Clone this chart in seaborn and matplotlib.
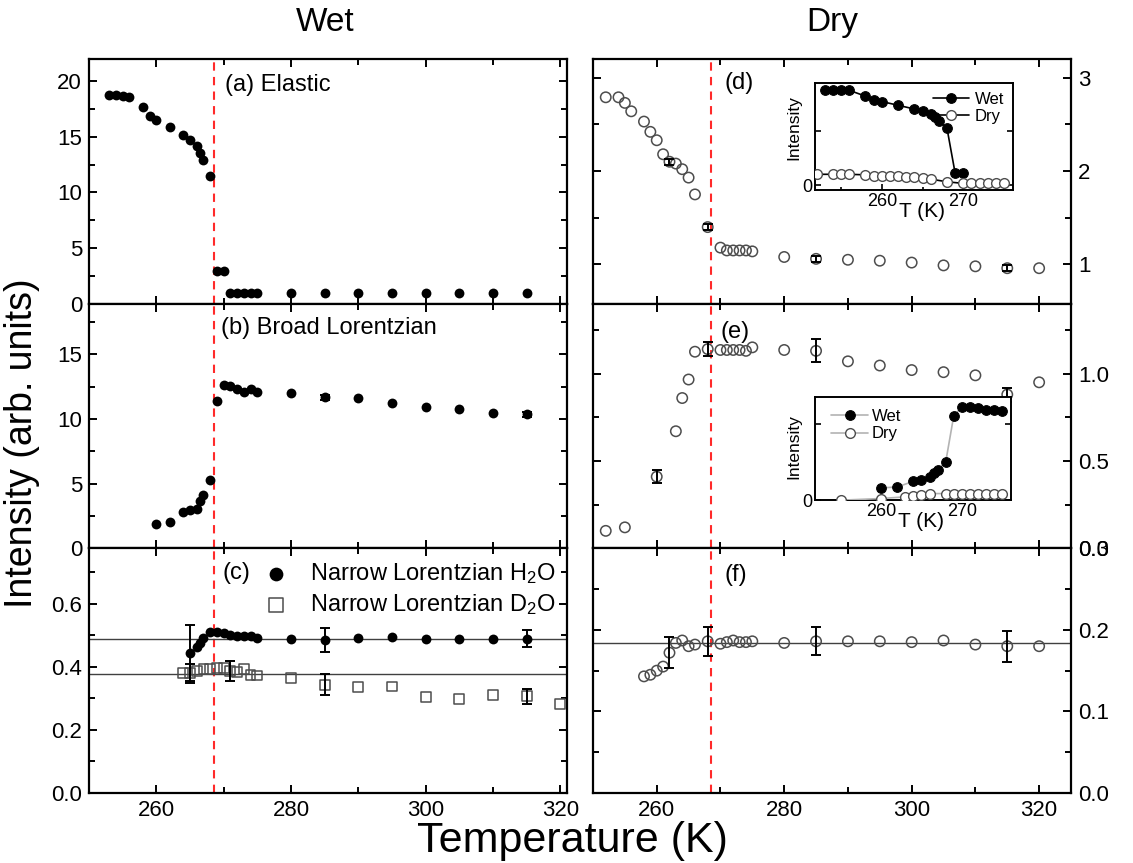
import matplotlib
matplotlib.use("Agg")
import matplotlib.pyplot as plt
import seaborn as sns
from matplotlib.ticker import MultipleLocator

# ---- values ----
# (a) elastic, wet
wet_el_T = [253, 254, 255, 256, 258, 259, 260, 262, 264, 265, 266, 266.5, 267, 268,
            269, 270, 271, 272, 273, 274, 275, 280, 285, 290, 295, 300, 305, 310, 315]
wet_el_I = [18.74, 18.74, 18.68, 18.6, 17.7, 16.9, 16.55, 15.9, 15.2, 14.75, 14.15, 13.55, 12.9, 11.5,
            2.97, 2.97, 1.0, 1.0, 1.0, 1.0, 1.0, 0.95, 1.0, 0.95, 1.0, 0.95, 0.95, 0.95, 0.95]

# (b) broad Lorentzian, wet
wet_br_T = [260, 262, 264, 265, 266, 266.5, 267, 268, 269, 270, 271, 272, 273, 274, 275,
            280, 285, 290, 295, 300, 305, 310, 315]
wet_br_I = [1.88, 2.06, 2.78, 2.99, 3.04, 3.63, 4.12, 5.31, 11.39, 12.63, 12.53, 12.32, 12.06, 12.32, 12.06,
            11.98, 11.68, 11.62, 11.21, 10.9, 10.77, 10.46, 10.34]
wet_br_errT = [285, 315]
wet_br_errI = [11.68, 10.34]
wet_br_err = [0.2, 0.2]

# (c) narrow Lorentzian, H2O and D2O
h2o_T = [265, 266, 266.5, 267, 268, 269, 270, 271, 272, 273, 274, 275,
         280, 285, 290, 295, 300, 305, 310, 315]
h2o_I = [0.444, 0.4625, 0.476, 0.49, 0.509, 0.511, 0.506, 0.499, 0.496, 0.496, 0.496, 0.49,
         0.489, 0.485, 0.49, 0.494, 0.489, 0.489, 0.489, 0.489]
h2o_errT = [265, 285, 315]
h2o_errI = [0.444, 0.485, 0.489]
h2o_err = [0.088, 0.037, 0.026]

d2o_T = [264, 265, 266, 267, 268, 269, 270, 271, 272, 273, 274, 275,
         280, 285, 290, 295, 300, 305, 310, 315, 320]
d2o_I = [0.379, 0.379, 0.386, 0.393, 0.393, 0.395, 0.397, 0.386, 0.382, 0.392, 0.374, 0.372,
         0.364, 0.343, 0.335, 0.3375, 0.304, 0.299, 0.311, 0.306, 0.283]
d2o_errT = [265, 271, 285, 315]
d2o_errI = [0.379, 0.386, 0.343, 0.306]
d2o_err = [0.03, 0.031, 0.033, 0.025]

h2o_level = 0.489
d2o_level = 0.377

# (d) elastic, dry
dry_el_T = [252, 254, 255, 256, 258, 259, 260, 261, 262, 263, 264, 265, 266, 268,
            270, 271, 272, 273, 274, 275, 280, 285, 290, 295, 300, 305, 310, 315, 320]
dry_el_I = [2.79, 2.79, 2.73, 2.64, 2.53, 2.42, 2.33, 2.18, 2.10, 2.08, 2.02, 1.93, 1.75, 1.40,
            1.18, 1.15, 1.15, 1.15, 1.15, 1.14, 1.08, 1.06, 1.05, 1.04, 1.02, 0.99, 0.98, 0.96, 0.96]
dry_el_errT = [262, 268, 285, 315]
dry_el_errI = [2.10, 1.40, 1.06, 0.96]
dry_el_err = [0.03, 0.03, 0.03, 0.03]

# (e) broad Lorentzian, dry
dry_br_T = [252, 255, 260, 263, 264, 265, 266, 268, 270, 271, 272, 273, 274, 275,
            280, 285, 290, 295, 300, 305, 310, 315, 320]
dry_br_I = [0.10, 0.12, 0.41, 0.67, 0.86, 0.966, 1.125, 1.14, 1.135, 1.135, 1.135, 1.135, 1.13, 1.15,
            1.135, 1.13, 1.07, 1.046, 1.02, 1.008, 0.99, 0.88, 0.95]
dry_br_errT = [260, 268, 285, 315]
dry_br_errI = [0.41, 1.14, 1.13, 0.88]
dry_br_err = [0.036, 0.04, 0.065, 0.04]

# (f) narrow Lorentzian, dry
dry_nr_T = [258, 259, 260, 261, 262, 263, 264, 265, 266, 268, 270, 271, 272, 273, 274, 275,
            280, 285, 290, 295, 300, 305, 310, 315, 320]
dry_nr_I = [0.143, 0.145, 0.150, 0.155, 0.172, 0.184, 0.187, 0.180, 0.182, 0.186, 0.183, 0.185, 0.187,
            0.185, 0.185, 0.186, 0.184, 0.186, 0.186, 0.186, 0.185, 0.187, 0.182, 0.180, 0.180]
dry_nr_errT = [262, 268, 285, 315]
dry_nr_errI = [0.172, 0.186, 0.186, 0.180]
dry_nr_err = [0.019, 0.0175, 0.017, 0.019]
dry_nr_level = 0.184

# inset of (d): elastic, wet vs dry
ins_d_wet_T = [253, 254, 255, 256, 258, 259, 260, 262, 264, 265, 266, 266.5, 267, 268, 269, 270]
ins_d_wet_I = [17.7, 17.7, 17.7, 17.7, 16.6, 15.9, 15.6, 14.9, 14.2, 13.9, 13.25, 12.75, 12.0, 10.6, 2.2, 2.2]
ins_d_dry_T = [252, 254, 255, 256, 258, 259, 260, 261, 262, 263, 264, 265, 266, 268,
               270, 271, 272, 273, 274, 275]
ins_d_dry_I = [2.0, 2.0, 2.0, 2.0, 1.9, 1.75, 1.7, 1.7, 1.6, 1.55, 1.5, 1.4, 1.1, 0.6,
               0.3, 0.3, 0.3, 0.3, 0.3, 0.3]

# inset of (e): broad Lorentzian, wet vs dry
ins_e_wet_T = [260, 262, 264, 265, 266, 266.5, 267, 268, 269, 270, 271, 272, 273, 274, 275]
ins_e_wet_I = [1.65, 1.78, 2.52, 2.74, 3.09, 3.6, 4.04, 5.0, 11.1, 12.3, 12.3, 12.1, 11.9, 11.96, 11.8]
ins_e_dry_T = [255, 260, 263, 264, 265, 266, 268, 269, 270, 271, 272, 273, 274, 275]
ins_e_dry_I = [0.04, 0.26, 0.48, 0.65, 0.78, 0.91, 0.91, 0.91, 0.91, 0.91, 0.91, 0.91, 0.91, 0.91]

T_transition = 268.5

# ---- style ----
sns.set_style("ticks")
plt.rcParams["font.family"] = ["Liberation Sans", "DejaVu Sans"]
plt.rcParams["mathtext.fontset"] = "custom"
plt.rcParams["mathtext.rm"] = "Liberation Sans"
plt.rcParams["mathtext.it"] = "Liberation Sans:italic"
plt.rcParams["axes.linewidth"] = 1.6
for key in ["text.color", "axes.labelcolor", "axes.edgecolor", "xtick.color", "ytick.color"]:
    plt.rcParams[key] = "black"

OPEN_EDGE = "0.3"


def style_axis(ax, ylim, ymaj, ymin, xlim, right_labels, bottom_labels, fs=16):
    ax.set_xlim(*xlim)
    ax.set_ylim(*ylim)
    ax.xaxis.set_major_locator(MultipleLocator(20))
    ax.xaxis.set_minor_locator(MultipleLocator(10))
    ax.yaxis.set_major_locator(MultipleLocator(ymaj))
    ax.yaxis.set_minor_locator(MultipleLocator(ymin))
    ax.tick_params(which="both", direction="in", top=True, bottom=True, left=True, right=True,
                   width=1.4, labelsize=fs, pad=5)
    ax.tick_params(which="major", length=6)
    ax.tick_params(which="minor", length=4)
    ax.tick_params(axis="y", labelleft=not right_labels, labelright=right_labels)
    ax.tick_params(axis="x", labelbottom=bottom_labels)
    ax.set_xlabel("")
    ax.set_ylabel("")
    ax.axvline(T_transition, color="#ff2a2a", lw=1.5, ls=(0, (4, 3)), zorder=1)


def filled(ax, x, y, label=None):
    sns.scatterplot(x=x, y=y, ax=ax, s=50, color="k", edgecolor="k", linewidth=0,
                    zorder=3, label=label)


def hollow(ax, x, y, marker="o", label=None, s=56):
    sns.scatterplot(x=x, y=y, ax=ax, s=s, marker=marker, facecolors="none",
                    edgecolor=OPEN_EDGE, linewidth=1.1, zorder=3, label=label)


def errs(ax, x, y, e):
    ax.errorbar(x, y, yerr=e, fmt="none", ecolor="k", elinewidth=1.4,
                capsize=3.5, capthick=1.4, zorder=4)


fig = plt.figure(figsize=(11.33, 8.63), dpi=100)
col_left = [0.07855, 0.52339]
col_w = 0.42189
row_bottom = [0.64812, 0.36462, 0.08111]
row_h = 0.28351

axes = {}
for ci, col in enumerate(["wet", "dry"]):
    for ri in range(3):
        axes[(col, ri)] = fig.add_axes([col_left[ci], row_bottom[ri], col_w, row_h])

left_x = (250, 321)
right_x = (250, 325)

# (a)
ax = axes[("wet", 0)]
filled(ax, wet_el_T, wet_el_I)
style_axis(ax, (0, 22), 5, 2.5, left_x, False, False)
ax.text(0.285, 0.895, "(a) Elastic", transform=ax.transAxes, fontsize=17, va="center")

# (b)
ax = axes[("wet", 1)]
errs(ax, wet_br_errT, wet_br_errI, wet_br_err)
filled(ax, wet_br_T, wet_br_I)
style_axis(ax, (0, 18.9), 5, 2.5, left_x, False, False)
ax.text(0.276, 0.9, "(b) Broad Lorentzian", transform=ax.transAxes, fontsize=17, va="center")

# (c)
ax = axes[("wet", 2)]
ax.axhline(h2o_level, color="0.25", lw=1.0, zorder=2)
ax.axhline(d2o_level, color="0.25", lw=1.0, zorder=2)
errs(ax, h2o_errT, h2o_errI, h2o_err)
errs(ax, d2o_errT, d2o_errI, d2o_err)
filled(ax, h2o_T, h2o_I, label="Narrow Lorentzian H$_2$O")
hollow(ax, d2o_T, d2o_I, marker="s", label="Narrow Lorentzian D$_2$O", s=50)
style_axis(ax, (0, 0.775), 0.2, 0.1, left_x, False, True)
ax.text(0.28, 0.9, "(c)", transform=ax.transAxes, fontsize=17, va="center")
leg = ax.legend(loc="upper left", bbox_to_anchor=(0.347, 0.985), frameon=False, fontsize=17,
                handlelength=1.0, handletextpad=0.95, labelspacing=0.25, markerscale=1.4,
                borderaxespad=0)

# (d)
ax = axes[("dry", 0)]
errs(ax, dry_el_errT, dry_el_errI, dry_el_err)
hollow(ax, dry_el_T, dry_el_I)
style_axis(ax, (0.58, 3.2), 1, 0.5, right_x, True, False)
ax.text(0.276, 0.9, "(d)", transform=ax.transAxes, fontsize=17, va="center")

# (e)
ax = axes[("dry", 1)]
errs(ax, dry_br_errT, dry_br_errI, dry_br_err)
hollow(ax, dry_br_T, dry_br_I)
style_axis(ax, (0, 1.4), 0.5, 0.25, right_x, True, False)
ax.text(0.266, 0.885, "(e)", transform=ax.transAxes, fontsize=17, va="center")

# (f)
ax = axes[("dry", 2)]
ax.axhline(dry_nr_level, color="0.25", lw=1.0, zorder=2)
errs(ax, dry_nr_errT, dry_nr_errI, dry_nr_err)
hollow(ax, dry_nr_T, dry_nr_I)
style_axis(ax, (0, 0.3), 0.1, 0.05, right_x, True, True)
ax.text(0.276, 0.89, "(f)", transform=ax.transAxes, fontsize=17, va="center")


# ---- insets ----
def inset(rect, wet_T, wet_I, dry_T, dry_I, ylim, line_color, legend_loc, ylab_y):
    ia = fig.add_axes(rect)
    sns.lineplot(x=wet_T, y=wet_I, ax=ia, color=line_color, lw=1.2, marker="o", markersize=7,
                 markerfacecolor="k", markeredgecolor="k", label="Wet", zorder=3)
    sns.lineplot(x=dry_T, y=dry_I, ax=ia, color=line_color, lw=1.2, marker="o", markersize=7,
                 markerfacecolor="white", markeredgecolor=OPEN_EDGE, markeredgewidth=1.0,
                 label="Dry", zorder=3)
    ia.set_xlim(251.8, 276.1)
    ia.set_ylim(*ylim)
    ia.set_xticks([260, 270])
    ia.xaxis.set_minor_locator(MultipleLocator(5))
    ia.set_yticks([0, 10])
    ia.set_yticklabels(["0", ""])
    ia.tick_params(which="both", direction="in", top=False, right=True, labelsize=13, pad=2,
                   width=1.2)
    ia.tick_params(which="major", length=4)
    ia.tick_params(which="minor", length=2.5)
    for sp in ia.spines.values():
        sp.set_linewidth(1.4)
    ia.set_xlabel("T (K)", fontsize=15)
    ia.xaxis.set_label_coords(0.54, -0.11)
    ia.set_ylabel("Intensity", fontsize=12.5)
    ia.yaxis.set_label_coords(-0.07, ylab_y)
    handles, labels = ia.get_legend_handles_labels()
    if legend_loc == "upper right":
        ia.legend(handles, labels, loc="upper right", frameon=False, fontsize=12,
                  handlelength=2.2, handletextpad=0.3, labelspacing=0.1, borderaxespad=0.15)
    else:
        ia.legend(handles, labels, loc="upper left", bbox_to_anchor=(0.05, 0.95), frameon=False,
                  fontsize=12, handlelength=2.2, handletextpad=0.2, labelspacing=0.15,
                  borderaxespad=0)
    return ia


inset([0.7193, 0.7798, 0.1748, 0.1240], ins_d_wet_T, ins_d_wet_I, ins_d_dry_T, ins_d_dry_I,
      (-0.94, 19.06), "k", "upper right", 0.58)
inset([0.7193, 0.42005, 0.1730, 0.1199], ins_e_wet_T, ins_e_wet_I, ins_e_dry_T, ins_e_dry_I,
      (0, 13.6), "0.7", "upper left", 0.52)

# ---- shared labels ----
fig.text(0.2872, 0.9745, "Wet", fontsize=24, ha="center", va="center")
fig.text(0.7343, 0.9745, "Dry", fontsize=24, ha="center", va="center")
fig.text(0.0194, 0.487, "Intensity (arb. units)", fontsize=27, rotation=90, ha="center", va="center")
fig.text(0.505, 0.026, "Temperature (K)", fontsize=31, ha="center", va="center")

fig.savefig("out.png", dpi=100)
